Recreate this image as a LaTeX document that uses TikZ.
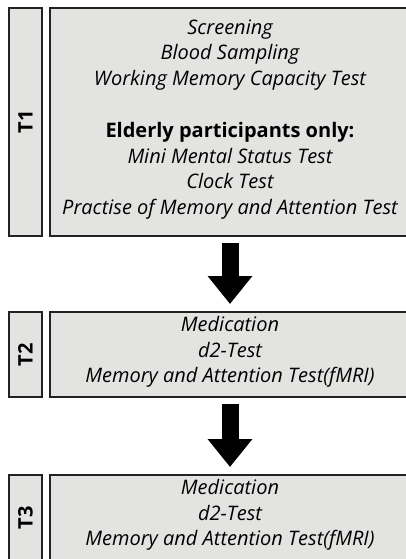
\documentclass[tikz,border=0pt]{standalone}
\usepackage{fontspec}
\setmainfont{Open Sans}
\usetikzlibrary{arrows.meta}
\definecolor{boxgray}{RGB}{227,228,226}
\definecolor{edgegray}{RGB}{34,34,34}

\begin{document}
\begin{tikzpicture}[x=1pt, y=-1pt,
  every node/.style={font=\fontsize{20}{25.8}\selectfont},
  phase/.style={draw=edgegray, line width=2pt, fill=boxgray, rotate=90, minimum height=33pt, inner sep=0pt, font=\fontsize{20}{22}\selectfont\bfseries},
  content/.style={draw=edgegray, line width=2pt, fill=boxgray, minimum width=360pt, align=center, inner sep=0pt, text depth=10pt},
  bigarrow/.style={line width=17pt, -{Triangle[width=43pt, length=28pt]}, shorten <=6pt, shorten >=7pt}
]
\useasboundingbox (0,0) rectangle (406,559);
\clip (0,0) rectangle (406,559);

% Time points
\node[phase, minimum width=228pt] (t1) at (25.5,122) {T1};
\node[phase, minimum width=85pt] (t2) at (25.5,354.5) {T2};
\node[phase, minimum width=85pt] (t3) at (25.5,517.5) {T3};

% Contents
\node[content, minimum height=228pt] (s1) at (230,122) {\itshape Screening\\\itshape Blood Sampling\\\itshape Working Memory Capacity Test\\[25.8pt]
  \textbf{Elderly participants only:}\\\itshape Mini Mental Status Test\\\itshape Clock Test\\\itshape Practise of Memory and Attention Test};
\node[content, minimum height=85pt] (s2) at (230,354.5) {\itshape Medication\\\itshape d2-Test\\\itshape Memory and Attention Test(fMRI)};
\node[content, minimum height=85pt] (s3) at (230,517.5) {\itshape Medication\\\itshape d2-Test\\\itshape Memory and Attention Test(fMRI)};

% Arrows
\draw[bigarrow] (s1.south) -- (s2.north);
\draw[bigarrow] (s2.south) -- (s3.north);
\end{tikzpicture}
\end{document}
